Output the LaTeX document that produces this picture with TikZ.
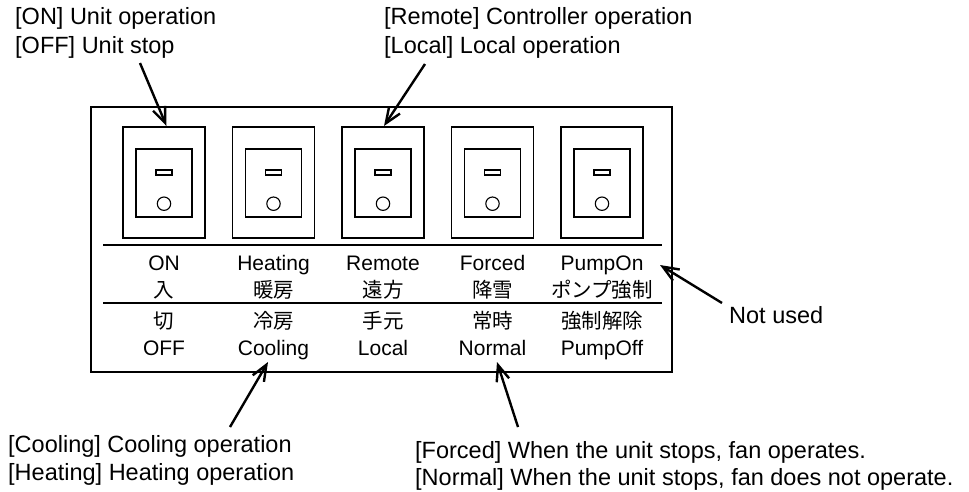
\documentclass[tikz,border=0pt]{standalone}
\usepackage{fontspec}
\setmainfont{Liberation Sans}
\newfontfamily\jpfont{Noto Sans CJK JP}
\usetikzlibrary{arrows.meta}
\begin{document}
\begin{tikzpicture}[x=1pt,y=-1pt,
  boxline/.style={line width=1.3pt},
  swouter/.style={draw, line width=1.3pt, minimum width=82pt, minimum height=111pt, inner sep=0pt},
  swinner/.style={draw, line width=1.3pt, minimum width=56pt, minimum height=68pt, inner sep=0pt},
  swslot/.style={draw, line width=1.1pt, minimum width=16pt, minimum height=5pt, inner sep=0pt},
  swlamp/.style={draw, line width=1.1pt, circle, minimum size=13.4pt, inner sep=0pt},
  lab/.style={anchor=base, inner sep=0pt, font=\fontsize{21}{25}\selectfont},
  jlab/.style={anchor=base, inner sep=0pt, font=\fontsize{20.5}{25}\selectfont\jpfont},
  note/.style={anchor=base west, inner sep=0pt, font=\fontsize{23.5}{29}\selectfont},
  arr/.style={line width=2.4pt, -{Straight Barb[length=16pt,width=13pt]}}
]
\useasboundingbox (0,0) rectangle (969,491);

% panel
\node[draw, line width=1.3pt, inner sep=0pt, minimum width=581pt, minimum height=265pt] (panel) at (381.5,239.5) {};
\coordinate (l1a) at (103,245); \coordinate (l1b) at (662,245);
\coordinate (l2a) at (103,303); \coordinate (l2b) at (662,303);
\draw[boxline] (l1a) -- (l1b);
\draw[boxline] (l2a) -- (l2b);

% switches
\foreach \i/\x in {1/164,2/273.5,3/383,4/492.5,5/602}{
  \node[swouter] (s\i) at (\x,182.5) {};
  \node[swinner] (si\i) at (\x,183) {};
  \node[swslot] (ss\i) at (\x,172.5) {};
  \node[swlamp] (sl\i) at (\x,203.7) {};
}

% labels
\node[lab] (r1c1) at (164,270.5) {ON};
\node[lab] (r1c2) at (273.5,270.5) {Heating};
\node[lab] (r1c3) at (383,270.5) {Remote};
\node[lab] (r1c4) at (492.5,270.5) {Forced};
\node[lab] (r1c5) at (602,270.5) {PumpOn};
\node[jlab] (r2c1) at (164,297.5) {入};
\node[jlab] (r2c2) at (273.5,297.5) {暖房};
\node[jlab] (r2c3) at (383,297.5) {遠方};
\node[jlab] (r2c4) at (492.5,297.5) {降雪};
\node[jlab] (r2c5) at (602,297.5) {ポンプ強制};
\node[jlab] (r3c1) at (164,328.5) {切};
\node[jlab] (r3c2) at (273.5,328.5) {冷房};
\node[jlab] (r3c3) at (383,328.5) {手元};
\node[jlab] (r3c4) at (492.5,328.5) {常時};
\node[jlab] (r3c5) at (602,328.5) {強制解除};
\node[lab] (r4c1) at (164,355) {OFF};
\node[lab] (r4c2) at (273.5,355) {Cooling};
\node[lab] (r4c3) at (383,355) {Local};
\node[lab] (r4c4) at (492.5,355) {Normal};
\node[lab] (r4c5) at (602,355) {PumpOff};

% annotations
\node[note] (n1a) at (15,24) {[ON] Unit operation};
\node[note] (n1b) at (15,53) {[OFF] Unit stop};
\node[note] (n2a) at (384,24) {[Remote] Controller operation};
\node[note] (n2b) at (384,53) {[Local] Local operation};
\node[note] (n3a) at (8,452) {[Cooling] Cooling operation};
\node[note] (n3b) at (8,480) {[Heating] Heating operation};
\node[note] (n4a) at (415,458) {[Forced] When the unit stops, fan operates.};
\node[note] (n4b) at (415,485) {[Normal] When the unit stops, fan does not operate.};
\node[note] (n5) at (729,323) {Not used};

% arrows
\coordinate (t1) at (140,63);   \coordinate (h1) at (166.5,126);
\coordinate (t2) at (425,64);   \coordinate (h2) at (384,126);
\coordinate (t3) at (230,427);  \coordinate (h3) at (268,362);
\coordinate (t4) at (518,427);  \coordinate (h4) at (497,362);
\coordinate (t5) at (722,303);  \coordinate (h5) at (660,265);
\draw[arr] (t1) -- (h1);
\draw[arr] (t2) -- (h2);
\draw[arr] (t3) -- (h3);
\draw[arr] (t4) -- (h4);
\draw[arr] (t5) -- (h5);
\end{tikzpicture}
\end{document}
